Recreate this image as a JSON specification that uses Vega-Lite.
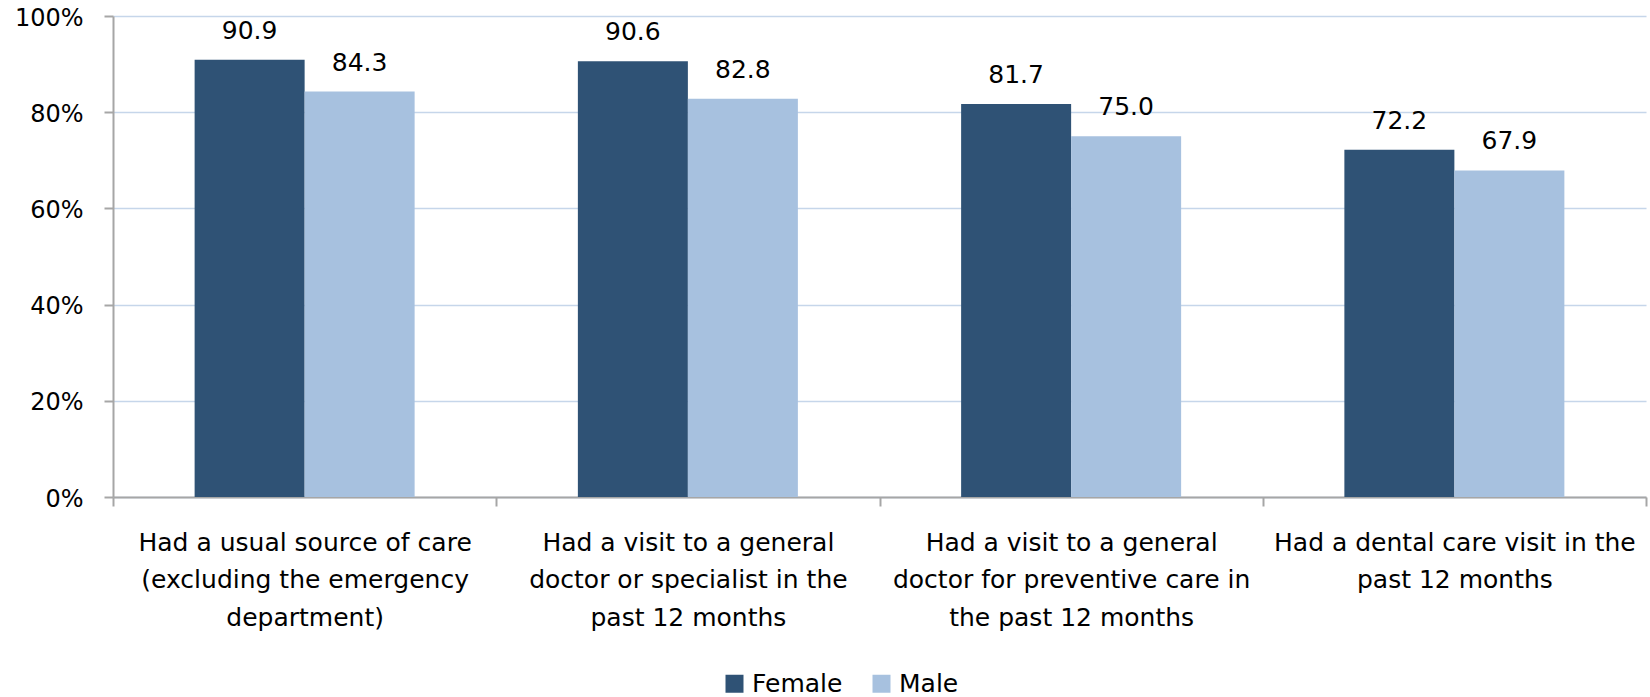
{
  "$schema": "https://vega.github.io/schema/vega-lite/v6.json",
  "autosize": {"type": "none"},
  "width": 1533,
  "height": 481,
  "padding": {"left": 113, "top": 16, "right": 4, "bottom": 200},
  "background": "white",
  "config": {
    "view": {"stroke": null},
    "font": "DejaVu Sans",
    "axis": {"labelFont": "DejaVu Sans", "labelColor": "#000000"},
    "legend": {"labelFont": "DejaVu Sans", "labelColor": "#000000"}
  },
  "data": {
    "values": [
      {"category": "Had a usual source of care|(excluding the emergency|department)", "sex": "Female", "value": 90.9},
      {"category": "Had a usual source of care|(excluding the emergency|department)", "sex": "Male", "value": 84.3},
      {"category": "Had a visit to a general|doctor or specialist in the|past 12 months", "sex": "Female", "value": 90.6},
      {"category": "Had a visit to a general|doctor or specialist in the|past 12 months", "sex": "Male", "value": 82.8},
      {"category": "Had a visit to a general|doctor for preventive care in|the past 12 months", "sex": "Female", "value": 81.7},
      {"category": "Had a visit to a general|doctor for preventive care in|the past 12 months", "sex": "Male", "value": 75.0},
      {"category": "Had a dental care visit in the|past 12 months", "sex": "Female", "value": 72.2},
      {"category": "Had a dental care visit in the|past 12 months", "sex": "Male", "value": 67.9}
    ]
  },
  "encoding": {
    "x": {
      "field": "category",
      "type": "nominal",
      "sort": null,
      "scale": {"paddingInner": 0, "paddingOuter": 0},
      "axis": {
        "title": null,
        "labelAngle": 0,
        "labelExpr": "split(datum.label, '|')",
        "labelFontSize": 25,
        "labelLineHeight": 37.5,
        "labelPadding": 24,
        "labelLimit": 0,
        "tickBand": "extent",
        "tickSize": 9,
        "tickColor": "#a6a6a6",
        "tickWidth": 2,
        "domainColor": "#a6a6a6",
        "domainWidth": 2,
        "grid": false
      }
    },
    "xOffset": {
      "field": "sex",
      "type": "nominal",
      "scale": {"paddingInner": 0, "paddingOuter": 0.742}
    },
    "y": {
      "field": "value",
      "type": "quantitative",
      "scale": {"domain": [0, 100], "nice": false},
      "axis": {
        "title": null,
        "values": [0, 20, 40, 60, 80, 100],
        "labelExpr": "datum.value + '%'",
        "labelFontSize": 24,
        "labelPadding": 21,
        "labelOffset": 2,
        "tickSize": 9,
        "tickColor": "#a6a6a6",
        "tickWidth": 2,
        "domainColor": "#a6a6a6",
        "domainWidth": 2,
        "gridColor": "#c6d6ea",
        "gridWidth": 1.5
      }
    }
  },
  "layer": [
    {
      "mark": {"type": "bar"},
      "encoding": {
        "color": {
          "field": "sex",
          "type": "nominal",
          "scale": {"domain": ["Female", "Male"], "range": ["#2f5275", "#a7c1df"]},
          "legend": {
            "title": null,
            "orient": "none",
            "direction": "horizontal",
            "legendX": 609,
            "legendY": 655,
            "symbolType": "square",
            "symbolSize": 324,
            "symbolStrokeWidth": 0,
            "labelFontSize": 25,
            "labelOffset": 5,
            "columnPadding": 26,
            "padding": 0
          }
        }
      }
    },
    {
      "mark": {"type": "text", "baseline": "alphabetic", "dy": -21, "fontSize": 25, "color": "#000000"},
      "encoding": {
        "text": {"field": "value", "type": "quantitative", "format": ".1f"}
      }
    }
  ]
}
